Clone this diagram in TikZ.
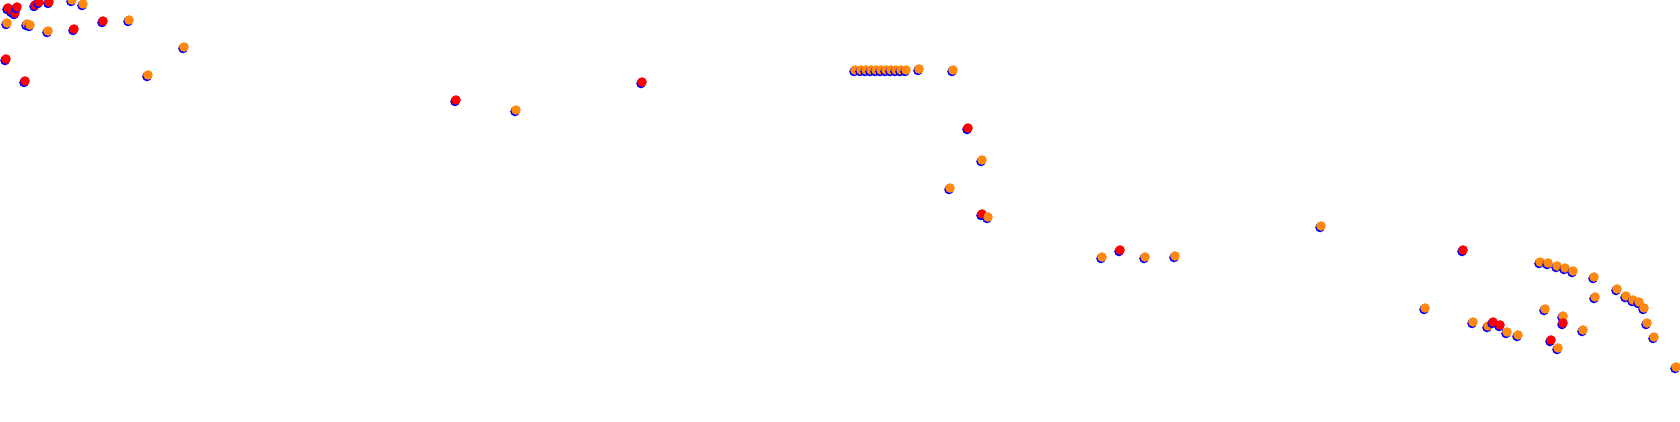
\documentclass[tikz,border=0pt]{standalone}
\usepackage{tikz}
\definecolor{dotblue}{RGB}{0,0,255}
\definecolor{dotred}{RGB}{255,0,0}
\definecolor{dotorange}{RGB}{255,136,17}
\tikzset{
  under/.style={fill=dotblue},
  top/.style={fill=#1}
}
\newcommand{\sample}[3]{%
  \fill[under] (#1-1,#2+1.5) circle (4.8);
  \fill[top=#3] (#1,#2) circle (4.8);
}
\begin{document}
\begin{tikzpicture}[x=1pt,y=-1pt]
  \useasboundingbox (0,0) rectangle (1680,421);
  % top left
  \foreach \px/\py/\c in {8/8/dotred,12/11/dotred,15/13/dotred,17/7/dotred,
      35/5/dotred,39/2/dotred,49/2/dotred,72/0/dotorange,83/4/dotorange,
      7/23/dotorange,27/24/dotorange,30/25/dotorange,48/31/dotorange,
      74/29/dotred,103/21/dotred,129/20/dotorange,6/59/dotred,25/81/dotred,
      148/75/dotorange,184/47/dotorange}
    {\sample{\px}{\py}{\c}}
  % middle
  \foreach \px/\py/\c in {456/100/dotred,516/110/dotorange,642/82/dotred,
      855/70/dotorange,861/70/dotorange,866/70/dotorange,871/70/dotorange,
      876/70/dotorange,881/70/dotorange,886/70/dotorange,891/70/dotorange,
      896/70/dotorange,901/70/dotorange,906/70/dotorange,
      919/69/dotorange,953/70/dotorange,
      968/128/dotred,982/160/dotorange,950/188/dotorange,982/214/dotred,
      988/217/dotorange,1102/257/dotorange,1120/250/dotred,
      1145/257/dotorange,1175/256/dotorange,1321/226/dotorange}
    {\sample{\px}{\py}{\c}}
  % right
  \foreach \px/\py/\c in {1463/250/dotred,1540/262/dotorange,1548/263/dotorange,
      1557/266/dotorange,1565/268/dotorange,1573/271/dotorange,
      1425/308/dotorange,1473/322/dotorange,1488/326/dotorange,1493/322/dotred,
      1500/325/dotred,1507/332/dotorange,1518/335/dotorange,1545/309/dotorange,
      1563/316/dotorange,1563/323/dotred,1551/340/dotred,1558/348/dotorange,
      1594/277/dotorange,1595/297/dotorange,1583/330/dotorange,
      1617/289/dotorange,1626/296/dotorange,1633/300/dotorange,
      1639/302/dotorange,1644/308/dotorange,1647/323/dotorange,
      1654/337/dotorange,1676/367/dotorange}
    {\sample{\px}{\py}{\c}}
\end{tikzpicture}
\end{document}
